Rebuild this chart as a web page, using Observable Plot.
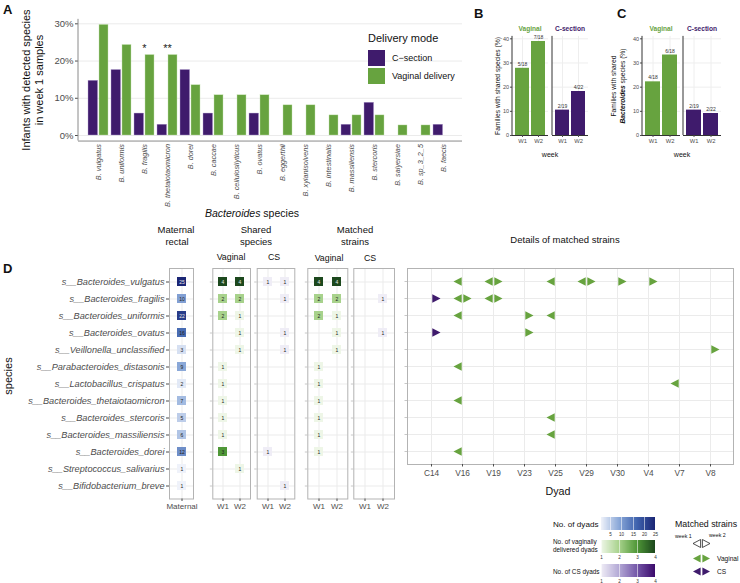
<!DOCTYPE html>
<html><head><meta charset="utf-8">
<script src="https://cdn.jsdelivr.net/npm/d3@7"></script>
<script src="https://cdn.jsdelivr.net/npm/@observablehq/plot@0.6"></script>
<style>
body{margin:0;background:#fff;}
#chart{position:relative;width:740px;height:583px;overflow:hidden;font-family:"Liberation Sans",Arial,sans-serif;background:#fff;}
#chart svg{position:absolute;left:0;top:0;}
</style></head><body><div id="chart"></div>
<script>
const W = 740, H = 583;
const FONT = "Liberation Sans, Arial, sans-serif";
const PURPLE = "#3f1b6c", GREEN = "#67a33f";
const AX = "#4d4d4d";

// ---------- Panel A data ----------
const speciesA = ["B. vulgatus","B. uniformis","B. fragilis","B. thetaiotaomicron","B. dorei","B. caccae","B. cellulosilyticus","B. ovatus","B. eggerthii","B. xylanisolvens","B. intestinalis","B. massiliensis","B. stercoris","B. salyersiae","B. sp_3_2_5","B. faecis"];
const csPct  = [14.7,17.6,5.9,2.9,17.6,5.9,0,5.9,0,0,0,2.9,8.8,0,0,2.9];
const vagPct = [29.7,24.3,21.6,21.6,13.5,10.8,10.8,10.8,8.1,8.1,5.4,5.4,5.4,2.7,2.7,0];
const sigSpecies = ["B. fragilis","B. thetaiotaomicron"];
const sigLabels = ["*","**"];
const ticksA = [0,10,20,30];

// ---------- Panels B & C data ----------
const weeks = ["W1","W2"];
const bVag = [27.8,38.9], bVagLab = ["5/18","7/18"];
const bCS  = [10.5,18.2], bCSLab  = ["2/19","4/22"];
const cVag = [22.2,33.3], cVagLab = ["4/18","6/18"];
const cCS  = [10.5,9.1],  cCSLab  = ["2/19","2/22"];
const ticksBC = [0,10,20,30,40];

// ---------- Panel D data ----------
const speciesD = ["s__Bacteroides_vulgatus","s__Bacteroides_fragilis","s__Bacteroides_uniformis","s__Bacteroides_ovatus","s__Veillonella_unclassified","s__Parabacteroides_distasonis","s__Lactobacillus_crispatus","s__Bacteroides_thetaiotaomicron","s__Bacteroides_stercoris","s__Bacteroides_massiliensis","s__Bacteroides_dorei","s__Streptococcus_salivarius","s__Bifidobacterium_breve"];
const maternalCount = [25,10,22,16,3,9,2,7,5,6,12,1,1];
const sharedVagW1  = [4,2,2,0,0,1,1,1,1,1,3,0,0];
const sharedVagW2  = [4,2,1,1,1,0,0,0,0,0,0,1,0];
const sharedCSW1   = [1,0,0,0,0,0,0,0,0,0,1,0,0];
const sharedCSW2   = [1,1,0,1,1,0,0,0,0,0,0,0,1];
const matchedVagW1 = [4,2,2,0,0,1,1,1,1,1,1,0,0];
const matchedVagW2 = [4,2,1,1,1,0,0,0,0,0,0,0,0];
const matchedCSW1  = [0,0,0,0,0,0,0,0,0,0,0,0,0];
const matchedCSW2  = [0,1,0,1,0,0,0,0,0,0,0,0,0];

const dyads = ["C14","V16","V19","V23","V25","V29","V30","V4","V7","V8"];
const speciesM = speciesD.slice(0, 11);
const strainSpecies = ["s__Bacteroides_vulgatus","s__Bacteroides_vulgatus","s__Bacteroides_vulgatus","s__Bacteroides_vulgatus","s__Bacteroides_vulgatus","s__Bacteroides_vulgatus","s__Bacteroides_vulgatus","s__Bacteroides_vulgatus",
  "s__Bacteroides_fragilis","s__Bacteroides_fragilis","s__Bacteroides_fragilis","s__Bacteroides_fragilis","s__Bacteroides_fragilis",
  "s__Bacteroides_uniformis","s__Bacteroides_uniformis","s__Bacteroides_uniformis",
  "s__Bacteroides_ovatus","s__Bacteroides_ovatus","s__Veillonella_unclassified","s__Parabacteroides_distasonis","s__Lactobacillus_crispatus",
  "s__Bacteroides_thetaiotaomicron","s__Bacteroides_stercoris","s__Bacteroides_massiliensis","s__Bacteroides_dorei"];
const strainDyad = ["V16","V19","V19","V25","V29","V29","V30","V4",
  "C14","V16","V16","V19","V19",
  "V16","V23","V25",
  "C14","V23","V8","V16","V7",
  "V16","V25","V25","V16"];
const strainWeek = ["W1","W1","W2","W1","W1","W2","W2","W2",
  "W2","W1","W2","W1","W2",
  "W1","W2","W1",
  "W2","W2","W2","W1","W1",
  "W1","W1","W1","W1"];

// ---------- colour ramps ----------
const bluesI   = d3.piecewise(d3.interpolateRgb, ["#eff2fa","#8aa8d8","#3f63ae","#1b2675"]);
const greensI  = d3.piecewise(d3.interpolateRgb, ["#eef6e7","#a8d28c","#4f9737","#1c481d"]);
const purplesI = d3.piecewise(d3.interpolateRgb, ["#efedf6","#b3a8d5","#7457a8","#3c0b6c"]);

const chart = document.getElementById("chart");
function place(el){ chart.appendChild(el); return el; }
function base(x0, y0, x1, y1){
  return {width: W, height: H, marginLeft: x0, marginTop: y0, marginRight: W - x1, marginBottom: H - y1,
    style: {background: "transparent", fontFamily: FONT, overflow: "visible"}};
}
function line(svg, x1, y1, x2, y2, color, w = 1){
  d3.select(svg).append("line").attr("x1",x1).attr("y1",y1).attr("x2",x2).attr("y2",y2)
    .attr("stroke",color).attr("stroke-width",w);
}

// ---------- Panel A ----------
const rowsA = speciesA.flatMap((s,i) => [
  {species: s, mode: "C-section", pct: csPct[i]},
  {species: s, mode: "Vaginal delivery", pct: vagPct[i]}]).filter(d => d.pct > 0);
const sigRows = sigSpecies.map((s,i) => ({species: s, label: sigLabels[i], top: vagPct[speciesA.indexOf(s)]}));
const A = [78, 18.85, 462, 140.55];
const pA = Plot.plot({
  ...base(...A),
  x: {domain: speciesA, padding: 0.14, label: null},
  y: {domain: [-1.49, 31.2], label: null},
  marks: [
    Plot.gridY(ticksA, {stroke: "#ebebeb", strokeOpacity: 1}),
    Plot.barY(rowsA.filter(d => d.mode === "C-section"), {x: "species", y: "pct", fill: PURPLE, insetLeft: 0, insetRight: 10.4, stroke: "#b9a8d6", strokeWidth: 0.4}),
    Plot.barY(rowsA.filter(d => d.mode !== "C-section"), {x: "species", y: "pct", fill: GREEN, insetLeft: 11, insetRight: 0, stroke: "#c4e0ae", strokeWidth: 0.4}),
    Plot.text(sigRows, {x: "species", y: "top", text: "label", dy: -7, fontSize: 11, fill: "#222"}),
    Plot.ruleY([-1.49], {stroke: "#8a8a8a"}),
    Plot.axisY({ticks: ticksA, tickFormat: d => d + "%", tickSize: 3, tickPadding: 2, fontSize: 9.5, color: AX, label: null}),
    Plot.axisX({tickRotate: -90, tickSize: 0, tickPadding: 3, fontSize: 7.3, fontStyle: "italic", color: AX, label: null})
  ]
});
line(pA, A[0], A[1], A[0], A[3], "#8a8a8a");
place(pA);

// ---------- Panels B & C ----------
function facetBar(x0, x1, vals, labs, fill, showY){
  const data = weeks.map((w,i) => ({week: w, value: vals[i], label: labs[i]}));
  const marks = [
    Plot.gridY(ticksBC, {stroke: "#eeeeee", strokeOpacity: 1}),
    Plot.gridX({stroke: "#eeeeee", strokeOpacity: 1}),
    Plot.barY(data, {x: "week", y: "value", fill}),
    Plot.text(data, {x: "week", y: "value", text: "label", dy: -4, fontSize: 5, fill: "#333"}),
    Plot.ruleY([0], {stroke: "#333"}),
    Plot.axisX({tickSize: 2, tickPadding: 1.5, fontSize: 5.8, color: AX, label: null}),
    showY
      ? Plot.axisY({ticks: ticksBC, tickSize: 2, tickPadding: 1.5, fontSize: 5.5, color: AX, label: null})
      : Plot.axisY({ticks: ticksBC, tickSize: 0, tickFormat: () => "", label: null})
  ];
  const p = Plot.plot({
    ...base(x0, 35.9, x1, 135),
    x: {domain: weeks, paddingInner: 0.1, paddingOuter: 0.15, label: null},
    y: {domain: [0, 41], label: null},
    marks
  });
  line(p, x0, 35.9, x0, 135, "#333");
  return place(p);
}
facetBar(512, 548, bVag, bVagLab, GREEN, true);
facetBar(552, 588, bCS, bCSLab, PURPLE, false);
facetBar(642, 680, cVag, cVagLab, GREEN, true);
facetBar(683, 721, cCS, cCSLab, PURPLE, false);

// ---------- Panel D tiles ----------
const ROW0 = 268, ROW1 = 498.5;
function tilePlot(x0, x1, xDomain, cols, interp, domain, lightAt, showY, pi, po){
  const data = [];
  speciesD.forEach((s,i) => xDomain.forEach((w,j) => { const v = cols[j][i]; if (v > 0) data.push({species: s, x: w, v}); }));
  const p = Plot.plot({
    ...base(x0, ROW0, x1, ROW1),
    x: {domain: xDomain, type: "band", paddingInner: pi, paddingOuter: po, label: null},
    y: {domain: speciesD, type: "band", paddingInner: 0.5, paddingOuter: 0.35, label: null},
    color: {type: "linear", domain, interpolate: interp},
    marks: [
      Plot.gridX({stroke: "#ebebeb", strokeOpacity: 1}),
      Plot.gridY({stroke: "#ebebeb", strokeOpacity: 1}),
      Plot.frame({stroke: "#b3b3b3"}),
      Plot.cell(data, {x: "x", y: "species", fill: "v"}),
      Plot.text(data.filter(d => d.v < lightAt), {x: "x", y: "species", text: "v", fontSize: 5, fill: "#222"}),
      Plot.text(data.filter(d => d.v >= lightAt), {x: "x", y: "species", text: "v", fontSize: 5, fill: "#e8e8e8"}),
      Plot.axisX({tickSize: 2.5, tickPadding: 2, fontSize: 8, color: AX, label: null}),
      showY ? Plot.axisY({tickSize: 3, tickPadding: 2, fontSize: 9.2, fontStyle: "italic", color: AX, label: null})
            : Plot.axisY({tickSize: 2.5, tickFormat: () => "", stroke: "#c8c8c8", label: null})
    ]
  });
  return place(p);
}
tilePlot(169, 193, ["Maternal"], [maternalCount], bluesI, [1, 25], 20, true, 0.55, 0.375);
tilePlot(212.3, 250, weeks, [sharedVagW1, sharedVagW2], greensI, [1, 4], 4, false, 0.5, 0.35);
tilePlot(256.7, 294.3, weeks, [sharedCSW1, sharedCSW2], purplesI, [1, 4], 4, false, 0.5, 0.35);
tilePlot(307.3, 347.3, weeks, [matchedVagW1, matchedVagW2], greensI, [1, 4], 4, false, 0.5, 0.35);
tilePlot(353.3, 394, weeks, [matchedCSW1, matchedCSW2], purplesI, [1, 4], 4, false, 0.5, 0.35);

// ---------- Panel D details ----------
const triLeft  = {draw(ctx){ ctx.moveTo(-0.8, -4.2); ctx.lineTo(-0.8, 4.2); ctx.lineTo(-9, 0); ctx.closePath(); }};
const triRight = {draw(ctx){ ctx.moveTo(0.8, -4.2); ctx.lineTo(0.8, 4.2); ctx.lineTo(9, 0); ctx.closePath(); }};
const strains = strainSpecies.map((s,i) => ({species: s, dyad: strainDyad[i], week: strainWeek[i], mode: strainDyad[i][0] === "C" ? "CS" : "Vaginal"}));
const sel = (m, w) => strains.filter(d => d.mode === m && d.week === w);
const pD = Plot.plot({
  ...base(407, 268, 733, 464),
  x: {domain: dyads, type: "point", padding: 0.6, label: null},
  y: {domain: speciesM, type: "point", padding: 0.6, label: null},
  marks: [
    Plot.gridX({stroke: "#ebebeb", strokeOpacity: 1}),
    Plot.gridY({stroke: "#ebebeb", strokeOpacity: 1}),
    Plot.frame({stroke: "#b3b3b3"}),
    Plot.dot(sel("Vaginal","W1"), {x: "dyad", y: "species", symbol: triLeft,  fill: GREEN, r: 5}),
    Plot.dot(sel("Vaginal","W2"), {x: "dyad", y: "species", symbol: triRight, fill: GREEN, r: 5}),
    Plot.dot(sel("CS","W1"),      {x: "dyad", y: "species", symbol: triLeft,  fill: PURPLE, r: 5}),
    Plot.dot(sel("CS","W2"),      {x: "dyad", y: "species", symbol: triRight, fill: PURPLE, r: 5}),
    Plot.axisX({tickSize: 2.5, tickPadding: 3, fontSize: 8.3, color: AX, label: null}),
    Plot.axisY({tickSize: 2.5, tickFormat: () => "", stroke: "#c8c8c8", label: null})
  ]
});
place(pD);

// ---------- colour-bar legends ----------
function ramp(top, domain, interp, ticks){
  const lg = Plot.legend({
    color: {type: "linear", domain, interpolate: interp},
    label: null, width: 70, height: 20, marginTop: 0, marginBottom: 7, marginLeft: 6, marginRight: 10,
    tickSize: 0, tickPadding: 1, ticks, tickFormat: d3.format("d"),
    style: {fontFamily: FONT, fontSize: "4.6px", color: "#333", background: "transparent", overflow: "visible"}
  });
  lg.style.left = "595px"; lg.style.top = top + "px"; lg.style.position = "absolute";
  d3.select(lg).selectAll("line").attr("stroke", "#ffffff").attr("stroke-opacity", 0.55);
  return place(lg);
}
ramp(517, [1, 25], bluesI, [5, 10, 15, 20, 25]);
ramp(540, [1, 4], greensI, [1, 2, 3, 4]);
ramp(564, [1, 4], purplesI, [1, 2, 3, 4]);

// ---------- text overlay ----------
const ov = d3.create("svg").attr("width", W).attr("height", H)
  .style("position","absolute").style("left","0px").style("top","0px")
  .attr("font-family", FONT);
function T(x, y, s, {size = 9, anchor = "middle", weight = null, style = null, fill = "#111", rotate = 0} = {}){
  const t = ov.append("text").attr("x", x).attr("y", y).attr("font-size", size)
    .attr("text-anchor", anchor).attr("dominant-baseline", "central").attr("fill", fill);
  if (weight) t.attr("font-weight", weight);
  if (style) t.attr("font-style", style);
  if (rotate) t.attr("transform", `rotate(${rotate},${x},${y})`);
  if (Array.isArray(s)) s.forEach(([str, it, bd]) => t.append("tspan").text(str)
      .attr("font-style", it ? "italic" : null).attr("font-weight", bd ? "bold" : null));
  else t.text(s);
  return t;
}
// Panel letters
T(3, 9, "A", {size: 13, anchor: "start", weight: "bold"});
T(474, 13, "B", {size: 13, anchor: "start", weight: "bold"});
T(617, 13, "C", {size: 13, anchor: "start", weight: "bold"});
T(3, 268, "D", {size: 13, anchor: "start", weight: "bold"});

// Panel A titles
T(26, 80, "Infants with detected species", {size: 11, rotate: -90});
T(39, 80, "in week 1 samples", {size: 11, rotate: -90});
T(252, 213, [["Bacteroides", true], [" species"]], {size: 10.5});
// Panel A legend
T(368, 38, "Delivery mode", {size: 11, anchor: "start"});
ov.append("rect").attr("x", 368).attr("y", 50).attr("width", 17).attr("height", 16).attr("fill", PURPLE);
ov.append("rect").attr("x", 368).attr("y", 68).attr("width", 17).attr("height", 16).attr("fill", GREEN);
T(392, 58, "C\u2212section", {size: 9, anchor: "start"});
T(392, 76, "Vaginal delivery", {size: 9, anchor: "start"});

// Panel B/C strip labels & titles
T(530, 28, "Vaginal", {size: 6.6, weight: "bold", fill: GREEN});
T(570, 28, "C-section", {size: 6.6, weight: "bold", fill: PURPLE});
T(661, 28, "Vaginal", {size: 6.6, weight: "bold", fill: GREEN});
T(702, 28, "C-section", {size: 6.6, weight: "bold", fill: PURPLE});
T(497, 86, "Families with shared species (%)", {size: 6.7, rotate: -90});
T(613, 86, "Families with shared", {size: 6.7, rotate: -90});
T(621.5, 86, [["Bacteroides", true, true], [" species (%)"]], {size: 6.7, rotate: -90});
T(550, 154, "week", {size: 7});
T(682, 154, "week", {size: 7});

// Panel D headers
T(176, 229, "Maternal", {size: 9.5});
T(177, 241, "rectal", {size: 9.5});
T(256, 229, "Shared", {size: 9.5});
T(256, 241, "species", {size: 9.5});
T(355, 229, "Matched", {size: 9.5});
T(355, 241, "strains", {size: 9.5});
T(565, 239, "Details of matched strains", {size: 9.5});
T(231, 257, "Vaginal", {size: 8.8});
T(274, 257, "CS", {size: 8.8});
T(329, 258, "Vaginal", {size: 8.8});
T(370, 258, "CS", {size: 8.8});
T(8, 376, "species", {size: 11, rotate: -90});
T(558, 491, "Dyad", {size: 10.7});

// bottom legends
T(553, 524, "No. of dyads", {size: 8.1, anchor: "start"});
T(553, 541, "No. of vaginally", {size: 6.4, anchor: "start"});
T(553, 549, "delivered dyads", {size: 6.4, anchor: "start"});
T(553, 571, "No. of CS dyads", {size: 6.4, anchor: "start"});
T(675, 524, "Matched strains", {size: 8.8, anchor: "start"});
T(675, 536, "week 1", {size: 5.3, anchor: "start"});
T(709, 535, "week 2", {size: 5.3, anchor: "start"});
function tri(cx, cy, dir, fill, stroke){
  const b = cx + dir * 0.9, tip = cx + dir * 8.5;
  ov.append("path").attr("d", `M${b},${cy - 4}L${b},${cy + 4}L${tip},${cy}Z`)
    .attr("fill", fill).attr("stroke", stroke || "none").attr("stroke-width", 0.8);
}
tri(701.5, 543.5, -1, "#fff", "#222"); tri(701.5, 543.5, 1, "#fff", "#222");
tri(701.5, 558.5, -1, GREEN); tri(701.5, 558.5, 1, GREEN);
tri(701.5, 571.5, -1, PURPLE); tri(701.5, 571.5, 1, PURPLE);
T(717, 558.5, "Vaginal", {size: 6.6, anchor: "start"});
T(717, 571.5, "CS", {size: 6.6, anchor: "start"});

place(ov.node());
</script></body></html>
